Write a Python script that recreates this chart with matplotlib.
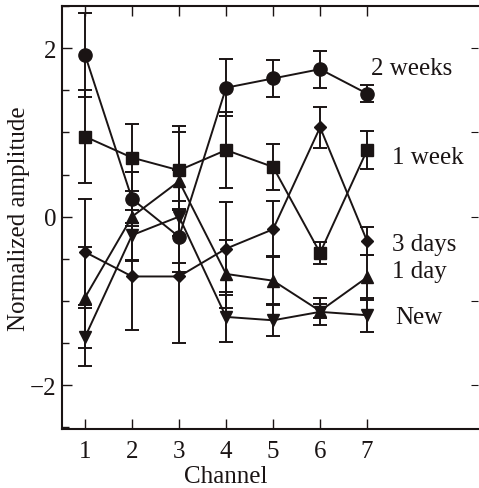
"""Normalized amplitude per channel for several ages."""
import matplotlib
matplotlib.use("Agg")
import matplotlib.pyplot as plt
from matplotlib.ticker import MultipleLocator

plt.rcParams["font.family"] = ["Liberation Serif", "DejaVu Serif"]

channels = [1, 2, 3, 4, 5, 6, 7]

weeks2 = [1.92, 0.21, -0.24, 1.53, 1.64, 1.75, 1.46]
weeks2_err = [0.50, 0.32, 0.42, 0.34, 0.22, 0.22, 0.10]

week1 = [0.95, 0.70, 0.55, 0.79, 0.59, -0.43, 0.79]
week1_err = [0.55, 0.40, 0.46, 0.45, 0.27, 0.13, 0.23]

days3 = [-0.42, -0.71, -0.71, -0.38, -0.15, 1.06, -0.29]
days3_err = [0.63, 0.64, 0.79, 0.55, 0.33, 0.24, 0.17]

day1 = [-0.96, 0.00, 0.42, -0.68, -0.76, -1.12, -0.72]
day1_err = [0.60, 0.53, 0.65, 0.40, 0.29, 0.08, 0.27]

new = [-1.43, -0.22, 0.00, -1.19, -1.23, -1.13, -1.17]
new_err = [0.34, 0.30, 0.55, 0.30, 0.19, 0.16, 0.20]

series = [
    (weeks2, weeks2_err, "o", 9.5, "2 weeks", (7.08, 1.77)),
    (week1, week1_err, "s", 8.5, "1 week", (7.52, 0.71)),
    (days3, days3_err, "D", 6, "3 days", (7.52, -0.32)),
    (day1, day1_err, "^", 8.5, "1 day", (7.52, -0.64)),
    (new, new_err, "v", 8.5, "New", (7.6, -1.19)),
]

ink = "#1a1414"
fs = 18

fig = plt.figure(figsize=(4.79, 4.89), dpi=100)
ax = fig.add_axes([0.1294, 0.1207, 0.8686, 0.865])

for vals, errs, marker, ms, label, (tx, ty) in series:
    ax.errorbar(channels, vals, yerr=errs, fmt="-" + marker, color=ink,
                markersize=ms, linewidth=1.4, elinewidth=1.4, capsize=5,
                capthick=1.4)
    ax.text(tx, ty, label, fontsize=fs, va="center", ha="left", color=ink)

ax.set_xlim(0.51, 9.36)
ax.set_ylim(-2.52, 2.5)
ax.set_xticks(channels)
ax.set_yticks([-2, 0, 2])
ax.set_yticklabels(["\u22122", "0", "2"])
ax.yaxis.set_minor_locator(MultipleLocator(0.5))
ax.tick_params(axis="both", which="major", direction="in", length=7, width=1.0,
               labelsize=fs, colors=ink, top=True)
ax.tick_params(axis="y", which="minor", direction="in", length=5, width=1.0,
               colors=ink)
ax.tick_params(axis="x", pad=8)
ax.tick_params(axis="y", pad=4)

# right side ticks every unit, no labels; the spine itself falls off the image
sec = ax.secondary_yaxis("right")
sec.set_yticks([-2, -1, 0, 1, 2])
sec.tick_params(direction="in", length=5, labelright=False, colors=ink)
sec.spines["right"].set_visible(False)
ax.spines["right"].set_visible(False)

for name in ("left", "top", "bottom"):
    ax.spines[name].set_linewidth(1.5)
    ax.spines[name].set_color(ink)

ax.set_xlabel("Channel", fontsize=fs, labelpad=0, color=ink)
ax.xaxis.set_label_coords((4.0 - 0.51) / (9.36 - 0.51), -0.085)
ax.set_ylabel("Normalized amplitude", fontsize=fs, labelpad=0, color=ink)

fig.savefig("out.png", dpi=100)
